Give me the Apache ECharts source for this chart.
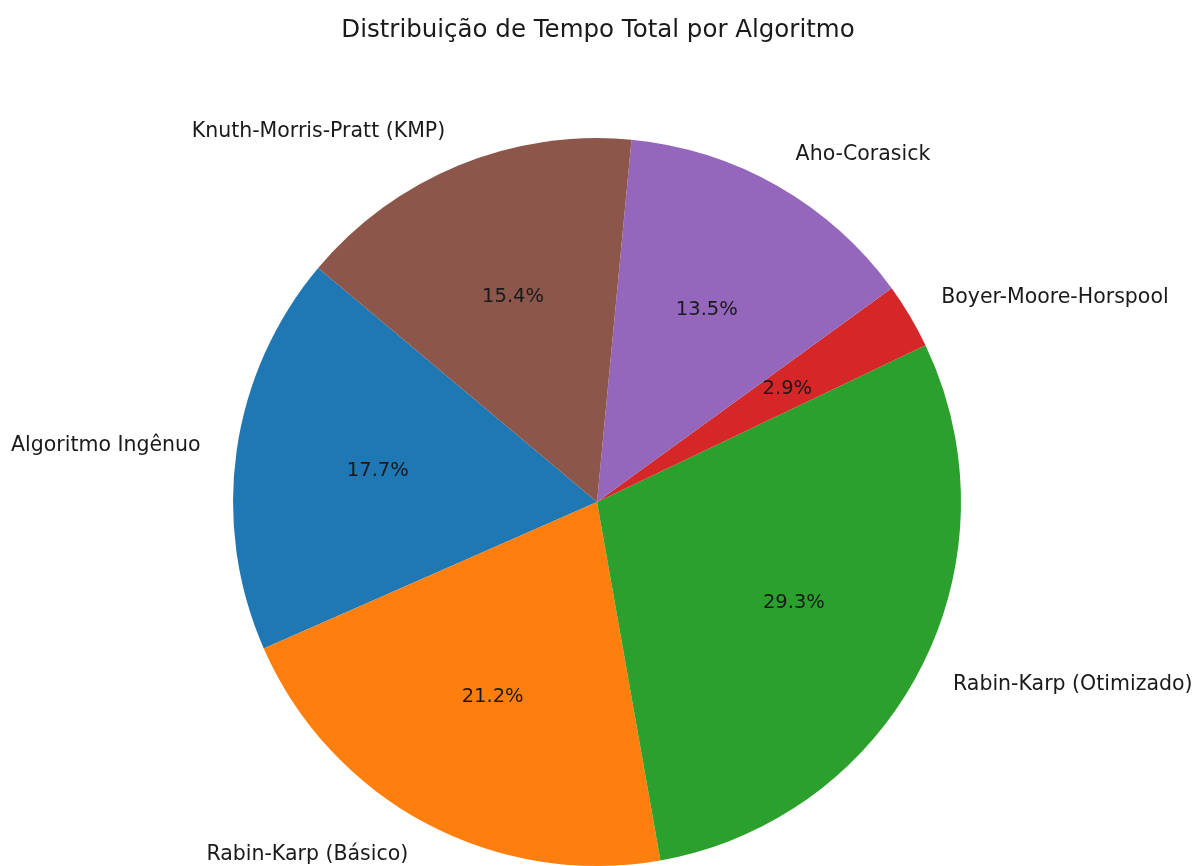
<!DOCTYPE html>
<html>
<head>
<meta charset="utf-8">
<script src="https://cdn.jsdelivr.net/npm/echarts@6/dist/echarts.min.js"></script>
<style>html,body{margin:0;padding:0;background:#fff}#c{width:1196px;height:866px}</style>
</head>
<body>
<div id="c"></div>
<script>
const categories = ['Algoritmo Ingênuo', 'Rabin-Karp (Básico)', 'Rabin-Karp (Otimizado)', 'Boyer-Moore-Horspool', 'Aho-Corasick', 'Knuth-Morris-Pratt (KMP)'];
const shares = [17.7, 21.2, 29.3, 2.9, 13.5, 15.4];
const colors = ['#1f77b4', '#ff7f0e', '#2ca02c', '#d62728', '#9467bd', '#8c564b'];

const R = 364;
const center = [597, 502];
const font = 'DejaVu Sans';
const data = categories.map((n, i) => ({ name: n, value: shares[i], itemStyle: { color: colors[i] } }));
const ghost = categories.map((n, i) => ({ name: n, value: shares[i] }));

const chart = echarts.init(document.getElementById('c'), null, { renderer: 'canvas' });
chart.setOption({
  animation: false,
  backgroundColor: '#ffffff',
  title: {
    text: 'Distribuição de Tempo Total por Algoritmo',
    left: 'center', top: 13,
    textStyle: { fontFamily: font, fontSize: 24.5, fontWeight: 'normal', color: '#1a1a1a' }
  },
  series: [
    {
      type: 'pie', center: center, radius: [0, R],
      startAngle: 140, clockwise: false, avoidLabelOverlap: false,
      silent: true,
      data: data,
      label: {
        show: true, position: 'outside', alignTo: 'none',
        fontFamily: font, fontSize: 20.5, color: '#1a1a1a',
        formatter: '{b}', distanceToLabelLine: 0
      },
      labelLine: { show: false, length: R * 0.1, length2: 0 },
      emphasis: { disabled: true }
    },
    {
      type: 'pie', center: center, radius: [0, R * 1.2],
      startAngle: 140, clockwise: false, avoidLabelOverlap: false,
      silent: true, z: 3,
      data: ghost,
      itemStyle: { color: 'rgba(0,0,0,0)' },
      label: {
        show: true, position: 'inside',
        fontFamily: font, fontSize: 19.5, color: '#1a1a1a',
        formatter: p => p.value.toFixed(1) + '%'
      },
      labelLine: { show: false },
      emphasis: { disabled: true }
    }
  ]
});
</script>
</body>
</html>
